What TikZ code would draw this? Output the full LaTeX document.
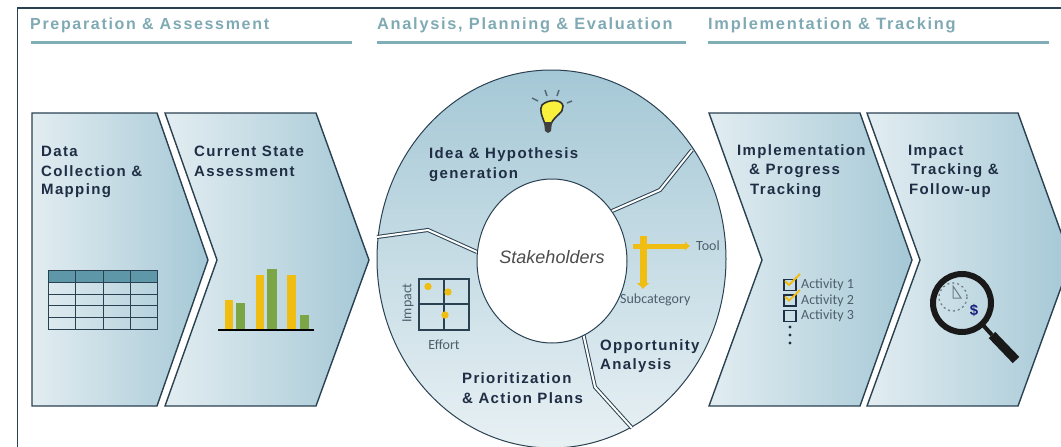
\documentclass[tikz,border=0pt]{standalone}
\usepackage{fontspec}
\usepackage{tikz}
\usetikzlibrary{arrows.meta}
\newfontfamily\headfont[LetterSpace=10.5]{Liberation Sans}
\newfontfamily\stepfont[LetterSpace=9]{Liberation Sans}
\newfontfamily\plainfont{Liberation Sans}
\newfontfamily\smallfont{Carlito}
\definecolor{headcol}{HTML}{7FA9B3}
\definecolor{rulecol}{HTML}{7FAEB6}
\definecolor{linecol}{HTML}{2A4152}
\definecolor{textcol}{HTML}{1F2E44}
\definecolor{smallcol}{HTML}{4E5F6C}
\definecolor{tablecol}{HTML}{5E97A8}
\definecolor{barY}{HTML}{F0BE12}
\definecolor{barG}{HTML}{7CA646}
\definecolor{bulbcol}{HTML}{F8F03C}
\definecolor{chevA}{HTML}{E2EDF1}
\definecolor{chevB}{HTML}{CBDEE6}
\definecolor{chevC}{HTML}{A5C8D6}
\begin{document}
\begin{tikzpicture}[x=1pt,y=-1pt,
    head/.style={anchor=west, inner sep=0pt, text=headcol, font=\headfont\bfseries\fontsize{#1}{18}\selectfont},
    headrule/.style={line width=3pt, rulecol},
    stepname/.style={anchor=west, inner sep=0pt, text=textcol, font=\stepfont\bfseries\fontsize{15}{18}\selectfont},
    tiny/.style={inner sep=0pt, text=smallcol, font=\smallfont\fontsize{14}{16}\selectfont},
    chev/.style={draw=linecol, line width=1.4pt, left color=chevA, middle color=chevB, right color=chevC},
    divider/.style={draw=linecol, line width=1pt, double=white, double distance=2pt},
    ray/.style={linecol!80, line width=1.5pt}]
    \clip (0,0) rectangle (1061,447);

    \draw[linecol, line width=1.2pt] (17.5,448) -- (17.5,8) -- (1062,8);

    \node[head=16] (prep) at (30,25) {Preparation \& Assessment};
    \node[head=16.35] (plan) at (377,25) {Analysis, Planning \& Evaluation};
    \node[head=16.4] (impl) at (708,25) {Implementation \& Tracking};
    \draw[headrule] (31,42.5) -- (352,42.5);
    \draw[headrule] (377,42.5) -- (686,42.5);
    \draw[headrule] (708,42.5) -- (1049,42.5);

    % chevrons
    \draw[chev] (32,113) -- (157,113) -- (208,260) -- (157,406) -- (32,406) -- cycle;
    \draw[chev] (165,113) -- (316,113) -- (369,260) -- (316,406) -- (165,406) -- (217,260) -- cycle;
    \draw[chev] (709,113) -- (860,113) -- (912,260) -- (860,406) -- (709,406) -- (762,260) -- cycle;
    \draw[chev] (867,113) -- (1018,113) -- (1071,260) -- (1018,406) -- (867,406) -- (920,260) -- cycle;

    \node[stepname] (data1) at (41,151) {Data};
    \node[stepname] (data2) at (41,171) {Collection \&};
    \node[stepname] (data3) at (41,191) {Mapping};
    \node[stepname] (state1) at (194,151) {Current State};
    \node[stepname] (state2) at (194,171) {Assessment};
    \node[stepname] (track1) at (737,151.5) {Implementation};
    \node[stepname] (track2) at (749,171) {\& Progress};
    \node[stepname] (track3) at (750,190.5) {Tracking};
    \node[stepname] (effect1) at (908,151.5) {Impact};
    \node[stepname] (effect2) at (911,171) {Tracking \&};
    \node[stepname] (effect3) at (909,190.5) {Follow-up};

    % table
    \fill[tablecol] (48,270) rectangle (157,282);
    \draw[linecol, line width=0.9pt] (48,270) rectangle (157,329);
    \foreach \y in {282,294,305,317}
      \draw[linecol, line width=0.9pt] (48,\y) -- (157,\y);
    \foreach \x in {75.5,103,130}
      \draw[linecol, line width=0.9pt] (\x,270) -- (\x,329);

    % bars
    \fill[barY] (224.5,300) rectangle (232.5,330);
    \fill[barG] (236,303) rectangle (245,330);
    \fill[barY] (255.5,275) rectangle (264,330);
    \fill[barG] (266.5,269) rectangle (276.5,330);
    \fill[barY] (287,275) rectangle (296,330);
    \fill[barG] (300,315) rectangle (309,330);
    \draw[black, line width=1.5pt] (218,330) -- (314,330);

    % ring
    \draw[linecol, line width=1pt, top color=chevC, bottom color=chevA!80!white] (551.5,259) ellipse [x radius=174.5, y radius=189];
    \draw[divider] (612,211) -- (660,190) -- (692,150);
    \draw[divider] (477,252) -- (428,230) -- (377,237);
    \draw[divider] (583,333) -- (595,387) -- (632,428);
    \draw[linecol, line width=1pt, fill=white] (552,261) ellipse [x radius=75, y radius=82];

    \node[inner sep=0pt, text=black!70, font=\plainfont\itshape\fontsize{18}{20}\selectfont] (stake) at (552,257) {Stakeholders};
    \node[stepname] (idea1) at (429,155) {Idea \& Hypothesis};
    \node[stepname] (idea2) at (429,174.5) {generation};
    \node[stepname] (prio1) at (462,378) {Prioritization};
    \node[stepname] (prio2) at (462,398) {\& Action Plans};
    \node[stepname] (opp1) at (600,347) {Opportunity};
    \node[stepname] (opp2) at (600,366) {Analysis};

    % bulb
    \draw[black!80, line width=1.6pt, fill=bulbcol] (545,124) .. controls (542,116) and (539,110) .. (542,105) .. controls (548,99) and (562,99) .. (563,106) .. controls (564,113) and (554,116) .. (551,124) -- cycle;
    \fill[black!75] (544,122) -- (552,122) -- (551,131) -- (548,133) -- (545,131) -- cycle;
    \draw[ray] (532,98) -- (538,101);
    \draw[ray] (545,90) -- (547,96);
    \draw[ray] (559,90) -- (557,96);
    \draw[ray] (567,103) -- (572,101);

    % tool
    \draw[barY, line width=5pt, -{Latex[length=5pt,width=10pt]}] (633,246) -- (690,246);
    \draw[barY, line width=7pt, -{Latex[length=6pt,width=14pt]}] (643,236) -- (643,289);
    \node[tiny, anchor=west] (tool) at (696,246) {Tool};
    \node[tiny, anchor=west] (subcat) at (620,300) {Subcategory};

    % matrix
    \draw[linecol, line width=1.2pt] (419,279) rectangle (469,330);
    \draw[linecol, line width=1.2pt] (444,279) -- (444,330);
    \draw[linecol, line width=1.2pt] (419,304) -- (469,304);
    \fill[barY] (428,286.5) circle (3.7);
    \fill[barY] (448,292) circle (3.7);
    \fill[barY] (445,315) circle (3.7);
    \node[tiny, rotate=90] (impact) at (408,303) {Impact};
    \node[tiny] (effort) at (444,345) {Effort};

    % checklist
    \foreach \y/\t/\n in {285/Activity 1/actA,300.5/Activity 2/actB,316/Activity 3/actC}{
      \draw[textcol, line width=1.5pt] (784,\y-5.5) rectangle (796,\y+5.5);
      \node[tiny, anchor=west] (\n) at (801,\y) {\t};
    }
    \draw[barY, line width=1.8pt] (785,281) -- (789,285) -- (800,274);
    \draw[barY, line width=1.8pt] (785,296.5) -- (789,300.5) -- (800,290);
    \foreach \y in {327,335,343}
      \fill[textcol] (790,\y) circle (1.6);

    % magnifier
    \draw[black!90, line width=6pt] (962,303) circle (29);
    \draw[black!90, line width=4pt] (982,324) -- (992,335);
    \draw[black!90, line width=9pt] (992,335) -- (1016,360);
    \draw[smallcol!80, line width=1.3pt, dash pattern=on 2pt off 3pt] (953,297) circle (14);
    \draw[smallcol!80, line width=1pt] (953,286) -- (953,298) -- (961,298) -- cycle;
    \node[inner sep=0pt, text=textcol!70!blue, font=\plainfont\bfseries\fontsize{15}{17}\selectfont] (dollar) at (974,310) {\$};
  \end{tikzpicture}
\end{document}
